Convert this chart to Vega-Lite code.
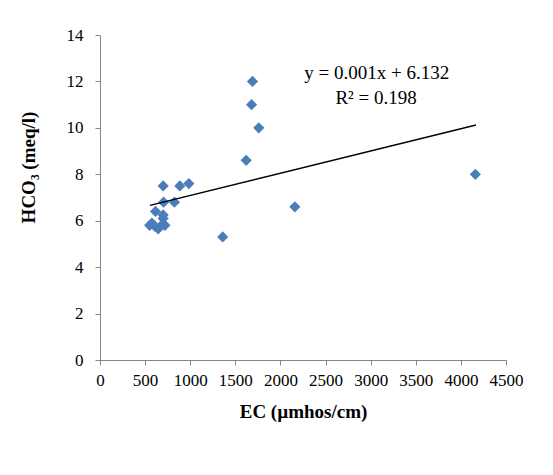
{
  "$schema": "https://vega.github.io/schema/vega-lite/v6.json",
  "width": 406,
  "height": 325,
  "autosize": {"type": "none"},
  "padding": {"left": 100, "top": 35, "right": 47, "bottom": 115},
  "background": "white",
  "config": {
    "view": {"stroke": null},
    "font": "Liberation Serif",
    "axis": {
      "grid": false,
      "domainColor": "#868686",
      "tickColor": "#868686",
      "tickSize": 5,
      "labelFont": "Liberation Serif",
      "labelFontSize": 17,
      "labelColor": "#000000",
      "labelOverlap": false,
      "labelFlush": false,
      "titleFont": "Liberation Serif",
      "titleFontSize": 19,
      "titleFontWeight": "bold",
      "titleColor": "#000000"
    }
  },
  "datasets": {
    "pts": [
      {"ec": 4160, "hco3": 8.0},
      {"ec": 2160, "hco3": 6.6},
      {"ec": 1360, "hco3": 5.3},
      {"ec": 1620, "hco3": 8.6},
      {"ec": 1690, "hco3": 12.0},
      {"ec": 1680, "hco3": 11.0},
      {"ec": 1760, "hco3": 10.0},
      {"ec": 985, "hco3": 7.6},
      {"ec": 885, "hco3": 7.5},
      {"ec": 700, "hco3": 7.5},
      {"ec": 825, "hco3": 6.8},
      {"ec": 705, "hco3": 6.8},
      {"ec": 615, "hco3": 6.4},
      {"ec": 700, "hco3": 6.25},
      {"ec": 700, "hco3": 6.1},
      {"ec": 575, "hco3": 5.9},
      {"ec": 610, "hco3": 5.75},
      {"ec": 550, "hco3": 5.8},
      {"ec": 645, "hco3": 5.65},
      {"ec": 680, "hco3": 5.8},
      {"ec": 720, "hco3": 5.8}
    ],
    "trend": [
      {"ec": 554, "hco3": 6.66},
      {"ec": 4168, "hco3": 10.12}
    ],
    "labels": [
      {"ec": 3068, "hco3": 12.37, "text": "y = 0.001x + 6.132"},
      {"ec": 3060, "hco3": 11.29, "text": "R² = 0.198"}
    ]
  },
  "layer": [
    {
      "data": {"name": "pts"},
      "mark": {"type": "point", "shape": "diamond", "filled": true, "color": "#4A7EBB", "opacity": 1, "size": 125},
      "encoding": {
        "x": {
          "field": "ec", "type": "quantitative",
          "scale": {"domain": [0, 4500], "nice": false, "zero": true},
          "axis": {"values": [0, 500, 1000, 1500, 2000, 2500, 3000, 3500, 4000, 4500], "format": "d", "labelPadding": 7, "title": "EC (µmhos/cm)", "titlePadding": 14}
        },
        "y": {
          "field": "hco3", "type": "quantitative",
          "scale": {"domain": [0, 14], "nice": false},
          "axis": {"values": [0, 2, 4, 6, 8, 10, 12, 14], "labelPadding": 12, "title": "HCO₃ (meq/l)", "titlePadding": 28, "titleY": 132}
        }
      }
    },
    {
      "data": {"name": "trend"},
      "mark": {"type": "line", "color": "#000000", "strokeWidth": 1.5},
      "encoding": {
        "x": {"field": "ec", "type": "quantitative"},
        "y": {"field": "hco3", "type": "quantitative"}
      }
    },
    {
      "data": {"name": "labels"},
      "mark": {"type": "text", "font": "Liberation Serif", "fontSize": 19, "align": "center", "baseline": "middle", "color": "#000000"},
      "encoding": {
        "x": {"field": "ec", "type": "quantitative"},
        "y": {"field": "hco3", "type": "quantitative"},
        "text": {"field": "text"}
      }
    }
  ]
}
